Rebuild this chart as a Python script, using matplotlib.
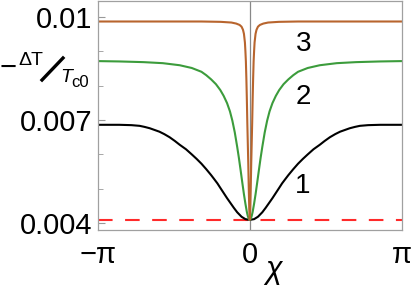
import numpy as np
import matplotlib
matplotlib.use("Agg")
import matplotlib.pyplot as plt
from matplotlib.lines import Line2D

# values, chi >= 0 half (curves are symmetric)
chi_black = [0, 0.09, 0.17, 0.26, 0.33, 0.40, 0.47, 0.54, 0.61, 0.67, 0.74, 0.80,
             0.90, 1.00, 1.10, 1.20, 1.32, 1.45, 1.55, 1.66, 1.77, 1.87, 1.97,
             2.07, 2.18, 2.28, 2.45, 2.70, 2.95, np.pi]
black = [0.00410, 0.00412, 0.00419, 0.00432, 0.00445, 0.00459, 0.00473, 0.00488,
         0.00503, 0.00516, 0.00529, 0.00540, 0.00557, 0.00573, 0.00587, 0.00600,
         0.00615, 0.00628, 0.00639, 0.00650, 0.00659, 0.00666, 0.00671, 0.00676,
         0.00680, 0.00683, 0.00685, 0.00686, 0.00686, 0.00686]

chi_green = [0, 0.02, 0.04, 0.06, 0.09, 0.12, 0.155, 0.19, 0.225, 0.26, 0.31, 0.36,
             0.41, 0.47, 0.54, 0.61, 0.70, 0.80, 0.90, 1.0, 1.2, 1.45, 1.8, 2.2,
             2.7, np.pi]
green = [0.00410, 0.00413, 0.00421, 0.00433, 0.00457, 0.00484, 0.00519, 0.00555,
         0.00590, 0.00622, 0.00664, 0.00698, 0.00725, 0.00749, 0.00770, 0.00787,
         0.00804, 0.00818, 0.00830, 0.00840, 0.00851, 0.00859, 0.00865, 0.00868,
         0.00870, 0.00871]

chi_brown = [0, 0.01, 0.02, 0.03, 0.04, 0.05, 0.06, 0.07, 0.08, 0.09, 0.10, 0.12,
             0.14, 0.17, 0.21, 0.28, 0.38, 0.6, 1.0, 1.6, 2.4, np.pi]
brown = [0.0041, 0.0044, 0.0050, 0.0057, 0.0063, 0.0069, 0.0076, 0.0082, 0.0087,
         0.0090, 0.00925, 0.00950, 0.00962, 0.00971, 0.00976, 0.00980, 0.00983,
         0.00985, 0.00986, 0.00986, 0.00986, 0.00986]

base_level = 0.0041

yticks = [0.004, 0.007, 0.01]
ytick_labels = ["0.004", "0.007", "0.01"]
yminor = [0.005, 0.006, 0.008, 0.009]
xticks = [-np.pi, 0, np.pi]
xtick_labels = ["\u2212\u03c0", "0", "\u03c0"]
curve_labels = [("1", 1.1, 0.00508), ("2", 1.1, 0.00767), ("3", 1.12, 0.00921)]


def mirror(c, v):
    c = np.array(c)
    v = np.array(v)
    return np.concatenate([-c[::-1], c[1:]]), np.concatenate([v[::-1], v[1:]])


plt.rcParams['font.family'] = ['Liberation Sans', 'DejaVu Sans']

W, H = 415, 285
fig = plt.figure(figsize=(W / 100, H / 100), dpi=100)
ax = fig.add_axes([98 / W, 1 - 230 / H, 303.5 / W, 229.5 / H])

ax.axhline(base_level, color="#ff2a2a", lw=1.5, dashes=(7, 6))
ax.axvline(0, color="#888888", lw=0.9)
for c, v, col in [(chi_black, black, "black"),
                  (chi_green, green, "#3c9c3c"),
                  (chi_brown, brown, "#b8652e")]:
    x, y = mirror(c, v)
    ax.plot(x, y, color=col, lw=1.5)

for s, xx, yy in curve_labels:
    ax.text(xx, yy, s, fontsize=20, ha="center", va="center")

ax.set_xlim(-np.pi, np.pi)
ax.set_ylim(0.003805, 0.01047)
ax.set_yticks(yticks)
ax.set_yticklabels(ytick_labels)
ax.set_yticks(yminor, minor=True)
ax.set_xticks(xticks)
ax.set_xticklabels(xtick_labels)
ax.tick_params(axis="y", which="both", direction="in", color="#999999",
               labelsize=21, pad=4)
ax.tick_params(axis="y", which="major", length=5)
ax.tick_params(axis="y", which="minor", length=3.5)
ax.tick_params(axis="x", length=0, labelsize=21, pad=8)
for sp in ax.spines.values():
    sp.set_color("#a0a0a0")
    sp.set_linewidth(0.9)

fig.text(274 / W, 1 - 270 / H, "\u03c7", fontsize=22, style="italic",
         ha="center", va="center")

# ylabel  -DeltaT / T_c0 as a slashed fraction
def px(x, y):
    return x / W, 1 - y / H

fig.text(*px(0, 76), "\u2212", fontsize=21, ha="left", va="baseline")
fig.text(*px(18, 65), "\u0394T", fontsize=14, ha="left", va="baseline")
fig.add_artist(Line2D([42 / W, 63 / W], [1 - 80 / H, 1 - 58 / H],
                      color="black", lw=2.4, transform=fig.transFigure))
fig.text(*px(60, 82), "T", fontsize=14, style="italic", ha="left", va="baseline")
fig.text(*px(71.5, 87), "c0", fontsize=12, ha="left", va="baseline")

fig.savefig("out.png", dpi=100)
